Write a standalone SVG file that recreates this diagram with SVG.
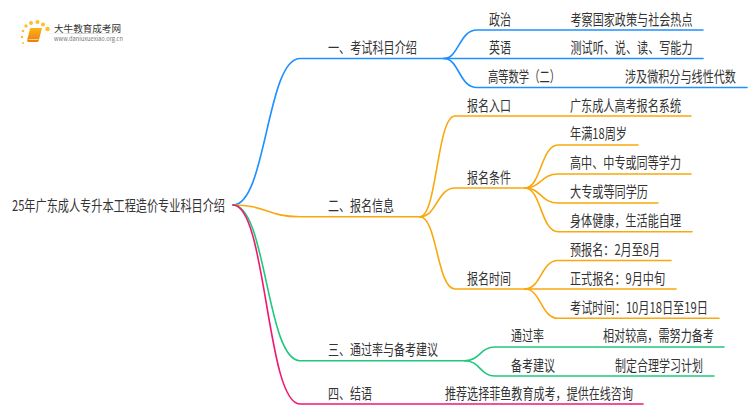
<svg xmlns="http://www.w3.org/2000/svg" width="750" height="410" viewBox="0 0 750 410">
<style>
text{font-family:"Noto Sans CJK SC","Noto Sans",sans-serif;font-size:15px;fill:#333}
.c{fill:none;stroke-width:1.6;stroke-linecap:round}
.b{stroke:#1e90ff}.o{stroke:#f9a80d}.g{stroke:#1fc87e}.p{stroke:#f0186f}
.d{fill:#fbc02d;stroke:none}
</style>
<defs>
<linearGradient id="bk" x1="0" y1="0" x2="0" y2="1"><stop offset="0" stop-color="#fbb41a"/><stop offset="1" stop-color="#ee7d0c"/></linearGradient>
<linearGradient id="ln" x1="0" y1="0" x2="1" y2="0"><stop offset="0" stop-color="#ddd" stop-opacity="0"/><stop offset=".4" stop-color="#ccc"/><stop offset="1" stop-color="#ddd" stop-opacity="0"/></linearGradient>
</defs>
<g id="connectors">
<path class="c b" d="M233 205C266.500 205 266.500 58.500 300 58.500H444"/>
<path class="c b" d="M444 58.500C459 58.500 459 30 477 30H703"/>
<path class="c b" d="M444 58.500H703"/>
<path class="c b" d="M444 58.500C459 58.500 459 87.500 477 87.500H747"/>
<path class="c o" d="M233 205C266.500 205 266.500 216.700 300 216.700H420"/>
<path class="c o" d="M420 216.700C437 216.700 437 116 455 116H691"/>
<path class="c o" d="M420 216.700C437 216.700 437 188 455 188H525"/>
<path class="c o" d="M420 216.700C437 216.700 437 289 455 289H525"/>
<path class="c o" d="M525 188C541 188 541 145 558 145H638"/>
<path class="c o" d="M525 188C541 188 541 174 558 174H691"/>
<path class="c o" d="M525 188C541 188 541 203 558 203H658"/>
<path class="c o" d="M525 188C541 188 541 231.700 558 231.700H692"/>
<path class="c o" d="M525 289C541 289 541 260.500 558 260.500H671"/>
<path class="c o" d="M525 289H676"/>
<path class="c o" d="M525 289C541 289 541 318.300 558 318.300H719"/>
<path class="c g" d="M233 205C266.500 205 266.500 360.700 300 360.700H465"/>
<path class="c g" d="M465 360.700C480 360.700 480 347 495 347H724"/>
<path class="c g" d="M465 360.700C480 360.700 480 376 495 376H714"/>
<path class="c p" d="M233 205C266.500 205 266.500 404 300 404H643"/>
</g>
<g id="logo">
<circle class="d" cx="23" cy="43" r="1"/><circle class="d" cx="22" cy="37" r="1.200"/><circle class="d" cx="23" cy="31" r="1.300"/><circle class="d" cx="26" cy="26" r="1.700"/><circle class="d" cx="31" cy="23" r="2"/><circle class="d" cx="37.500" cy="22" r="2"/><circle class="d" cx="43" cy="24.500" r="2.100"/><circle class="d" cx="47.500" cy="29" r="2.300"/>
<path d="M30 28.500Q30.500 28 31.500 28H42L38.800 40.500Q38.300 42 37 42H28.500Q26.800 42 27.200 40Z" fill="url(#bk)"/>
<path d="M28.500 39.500H38.500" stroke="#fde3b0" stroke-width=".8" fill="none"/>
<rect x="44" y="33" width="90" height="1" fill="url(#ln)"/>
<text x="54" y="31.500" textLength="67" lengthAdjust="spacingAndGlyphs" style="font-size:9.500px">大牛教育成考网</text>
<text x="54" y="41" textLength="69" lengthAdjust="spacingAndGlyphs" style="font-size:6px;fill:#777">www.daniuxuexiao.org.cn</text>
</g>
<g id="root"><text x="12" y="210.500" textLength="213" lengthAdjust="spacingAndGlyphs">25年广东成人专升本工程造价专业科目介绍</text></g>
<g id="n1"><text x="328" y="53" textLength="89" lengthAdjust="spacingAndGlyphs">一、考试科目介绍</text></g>
<g id="n1-1"><text x="489" y="24.500" textLength="22" lengthAdjust="spacingAndGlyphs">政治</text><text x="570.500" y="24.500" textLength="122" lengthAdjust="spacingAndGlyphs">考察国家政策与社会热点</text></g>
<g id="n1-2"><text x="489" y="53" textLength="22" lengthAdjust="spacingAndGlyphs">英语</text><text x="570.500" y="53" textLength="122" lengthAdjust="spacingAndGlyphs">测试听、说、读、写能力</text></g>
<g id="n1-3"><text x="488" y="82" textLength="72" lengthAdjust="spacingAndGlyphs">高等数学（二）</text><text transform="translate(625 82) scale(.74 1)">涉及微积分与线性代数</text></g>
<g id="n2"><text x="328" y="211" textLength="66" lengthAdjust="spacingAndGlyphs">二、报名信息</text></g>
<g id="n2-1"><text x="467" y="110.500" textLength="44" lengthAdjust="spacingAndGlyphs">报名入口</text><text x="570" y="110.500" textLength="111" lengthAdjust="spacingAndGlyphs">广东成人高考报名系统</text></g>
<g id="n2-2"><text x="467" y="182.500" textLength="44" lengthAdjust="spacingAndGlyphs">报名条件</text></g>
<g id="n2-2-1"><text x="570" y="139" textLength="57" lengthAdjust="spacingAndGlyphs">年满18周岁</text></g>
<g id="n2-2-2"><text x="570" y="168" textLength="111" lengthAdjust="spacingAndGlyphs">高中、中专或同等学力</text></g>
<g id="n2-2-3"><text x="570" y="197" textLength="78" lengthAdjust="spacingAndGlyphs">大专或等同学历</text></g>
<g id="n2-2-4"><text x="570" y="226" textLength="111" lengthAdjust="spacingAndGlyphs">身体健康，生活能自理</text></g>
<g id="n2-3"><text x="467" y="283.500" textLength="44" lengthAdjust="spacingAndGlyphs">报名时间</text></g>
<g id="n2-3-1"><text x="570" y="255" textLength="90" lengthAdjust="spacingAndGlyphs">预报名：2月至8月</text></g>
<g id="n2-3-2"><text x="570" y="283.500" textLength="95" lengthAdjust="spacingAndGlyphs">正式报名：9月中旬</text></g>
<g id="n2-3-3"><text transform="translate(570 312.500) scale(.746 1)">考试时间：10月18日至19日</text></g>
<g id="n3"><text x="328" y="355" textLength="110" lengthAdjust="spacingAndGlyphs">三、通过率与备考建议</text></g>
<g id="n3-1"><text x="511" y="341" textLength="33" lengthAdjust="spacingAndGlyphs">通过率</text><text transform="translate(603 341) scale(.74 1)">相对较高，需努力备考</text></g>
<g id="n3-2"><text x="511" y="370.500" textLength="44" lengthAdjust="spacingAndGlyphs">备考建议</text><text x="615" y="370.500" textLength="88" lengthAdjust="spacingAndGlyphs">制定合理学习计划</text></g>
<g id="n4"><text x="328" y="398.500" textLength="44" lengthAdjust="spacingAndGlyphs">四、结语</text><text x="445" y="398.500" textLength="188" lengthAdjust="spacingAndGlyphs">推荐选择菲鱼教育成考，提供在线咨询</text></g>
</svg>
